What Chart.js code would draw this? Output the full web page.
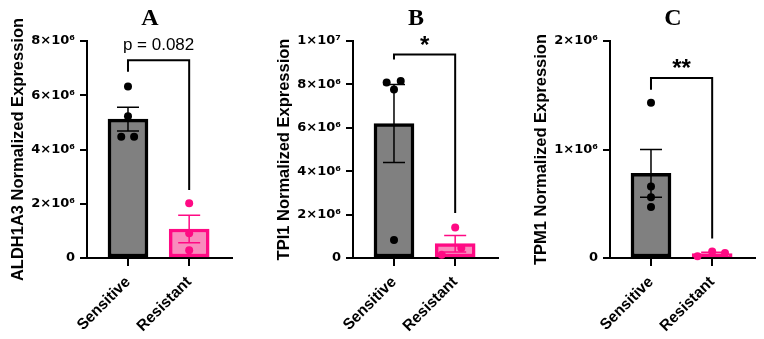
<!DOCTYPE html>
<html><head><meta charset="utf-8">
<script src="https://cdn.jsdelivr.net/npm/chart.js@4"></script>
<style>
html,body{margin:0;padding:0;background:#fff;}
#wrap{position:relative;width:764px;height:339px;overflow:hidden;background:#fff;}
canvas{position:absolute;top:0;}
</style></head><body>
<div id="wrap">
<canvas id="c0" width="254" height="339" style="left:0px"></canvas>
<canvas id="c1" width="244" height="339" style="left:266px"></canvas>
<canvas id="c2" width="241" height="339" style="left:523px"></canvas>
</div>
<script>
// ---- data ----
const categories = ['Sensitive', 'Resistant'];
const panelLetters = ['A', 'B', 'C'];
const genes = ['ALDH1A3', 'TPI1', 'TPM1'];
const yMax = [8e6, 1e7, 2e6];
const yStep = [2e6, 2e6, 1e6];
const sensitiveMean = [5.12e6, 6.20e6, 0.78e6];
const sensitiveSEM = [0.44e6, 1.80e6, 0.22e6];
const resistantMean = [1.07e6, 0.66e6, 0.04e6];
const resistantSEM = [0.51e6, 0.38e6, 0.014e6];
const sensitivePoints = [[6.32e6, 5.23e6, 4.47e6, 4.47e6], [8.09e6, 8.16e6, 7.77e6, 0.83e6], [1.43e6, 0.66e6, 0.56e6, 0.47e6]];
const sensitiveJitter = [[0, 0, -0.11, 0.1], [-0.12, 0.11, 0, 0], [0, 0, 0, 0]];
const resistantPoints = [[2.02e6, 0.91e6, 0.29e6], [1.41e6, 0.46e6, 0.15e6], [0.015e6, 0.061e6, 0.046e6]];
const resistantJitter = [[0, 0, 0], [0, 0.1, -0.22], [-0.24, 0, 0.21]];
const sigLabels = ['p = 0.082', '*', '**'];
const bracketTop = [7.29e6, 9.38e6, 1.66e6];
const bracketLeftEnd = [6.87e6, 9.15e6, 1.55e6];
const bracketRightEnd = [2.51e6, 2.07e6, 0.18e6];
const sigLabelY = [7.67e6, 9.43e6, 1.68e6];

// ---- style ----
const GRAY = '#808080', BLACK = '#000000', PINK = '#ff0a84', PINKFILL = '#f98bbd';
const SANS = '"Liberation Sans", Arial, Helvetica, sans-serif';
const WIDE = '"DejaVu Sans", "Liberation Sans", sans-serif';
const SERIF = '"Liberation Serif", "Times New Roman", serif';
Chart.defaults.color = '#000';
Chart.defaults.font.family = SANS;

const SUP = {'0':'⁰','1':'¹','2':'²','3':'³','4':'⁴','5':'⁵','6':'⁶','7':'⁷','8':'⁸','9':'⁹'};
function sciLabel(v) {
  if (v === 0) return '0';
  const e = Math.floor(Math.log10(v) + 1e-9);
  const m = Math.round(v / Math.pow(10, e) * 100) / 100;
  return m + '×10' + String(e).split('').map(d => SUP[d]).join('');
}

const annot = {
  id: 'annot',
  afterDatasetDraw(chart, args, opts) {
    if (args.meta.type !== 'bar') return;
    const p = opts.panel, ctx = chart.ctx, ys = chart.scales.y;
    const means = [sensitiveMean[p], resistantMean[p]];
    const sems = [sensitiveSEM[p], resistantSEM[p]];
    const cols = [BLACK, PINK];
    args.meta.data.forEach((bar, i) => {
      const x = bar.x;
      const hi = ys.getPixelForValue(means[i] + sems[i]);
      const lo = ys.getPixelForValue(Math.max(0, means[i] - sems[i]));
      ctx.save();
      ctx.strokeStyle = cols[i];
      ctx.lineWidth = 1.5;
      ctx.beginPath();
      ctx.moveTo(x, hi); ctx.lineTo(x, lo);
      ctx.moveTo(x - 11, hi); ctx.lineTo(x + 11, hi);
      ctx.moveTo(x - 11, lo); ctx.lineTo(x + 11, lo);
      ctx.stroke();
      ctx.restore();
    });
  },
  afterDraw(chart, args, opts) {
    const p = opts.panel, ctx = chart.ctx, xs = chart.scales.x, ys = chart.scales.y;
    const x1 = xs.getPixelForValue(1), x2 = xs.getPixelForValue(2);
    const yt = ys.getPixelForValue(bracketTop[p]);
    const yl = ys.getPixelForValue(bracketLeftEnd[p]);
    const yr = ys.getPixelForValue(bracketRightEnd[p]);
    ctx.save();
    ctx.strokeStyle = BLACK;
    ctx.lineWidth = 2;
    ctx.lineJoin = 'miter';
    ctx.beginPath();
    ctx.moveTo(x1, yl); ctx.lineTo(x1, yt); ctx.lineTo(x2, yt); ctx.lineTo(x2, yr);
    ctx.stroke();
    ctx.fillStyle = BLACK;
    ctx.textAlign = 'center';
    ctx.textBaseline = 'alphabetic';
    ctx.font = sigLabels[p].startsWith('p') ? ('17px ' + SANS) : ('bold 24px ' + SANS);
    ctx.fillText(sigLabels[p], (x1 + x2) / 2, ys.getPixelForValue(sigLabelY[p]));
    ctx.font = 'bold 24px ' + SERIF;
    ctx.fillText(panelLetters[p], chart.chartArea.left + 63, 25);
    ctx.restore();
  }
};

function makeChart(p) {
  const canvas = document.getElementById('c' + p);
  const W = canvas.width;
  return new Chart(canvas, {
    type: 'bar',
    data: {
      datasets: [
        {
          type: 'scatter',
          data: sensitivePoints[p].map((v, k) => ({x: 1 + sensitiveJitter[p][k], y: v})),
          pointRadius: 4, pointBorderWidth: 0,
          pointBackgroundColor: BLACK, clip: false
        },
        {
          type: 'scatter',
          data: resistantPoints[p].map((v, k) => ({x: 2 + resistantJitter[p][k], y: v})),
          pointRadius: 4, pointBorderWidth: 0,
          pointBackgroundColor: PINK, clip: false
        },
        {
          type: 'bar',
          data: [{x: 1, y: sensitiveMean[p]}, {x: 2, y: resistantMean[p]}],
          backgroundColor: [GRAY, PINKFILL],
          borderColor: [BLACK, PINK],
          borderWidth: 3.5,
          borderSkipped: false,
          barThickness: 40
        }
      ]
    },
    options: {
      responsive: false,
      animation: false,
      events: [],
      layout: {padding: {top: 41, right: W - 232, bottom: 0, left: 0}},
      plugins: {legend: {display: false}, tooltip: {enabled: false}, annot: {panel: p}},
      scales: {
        x: {
          type: 'linear',
          min: 0.33, max: 2.70,
          offset: false,
          afterBuildTicks: s => { s.ticks = categories.map((c, i) => ({value: i + 1})); },
          afterFit: s => { s.height = 81; },
          ticks: {
            autoSkip: false, minRotation: 45, maxRotation: 45, padding: 7,
            font: {size: 15.5, weight: 'bold'}, color: BLACK,
            callback: v => categories[Math.round(v) - 1]
          },
          grid: {display: true, drawOnChartArea: false, drawTicks: true, tickLength: 8,
                 color: BLACK, lineWidth: 2, offset: false},
          border: {display: true, color: BLACK, width: 2}
        },
        y: {
          type: 'linear',
          min: 0, max: yMax[p],
          afterFit: s => { s.width = 87; },
          ticks: {stepSize: yStep[p], padding: 5, font: {family: WIDE, size: 13, weight: 'bold'}, color: BLACK,
                  callback: v => sciLabel(v)},
          grid: {display: true, drawOnChartArea: false, drawTicks: true, tickLength: 7,
                 color: BLACK, lineWidth: 2},
          border: {display: true, color: BLACK, width: 2},
          title: {display: true, text: genes[p] + ' Normalized Expression',
                  font: {size: 16.5, weight: 'bold'}, color: BLACK, padding: {top: 9, bottom: 0}}
        }
      }
    },
    plugins: [annot]
  });
}
[0, 1, 2].forEach(makeChart);
</script>
</body></html>
